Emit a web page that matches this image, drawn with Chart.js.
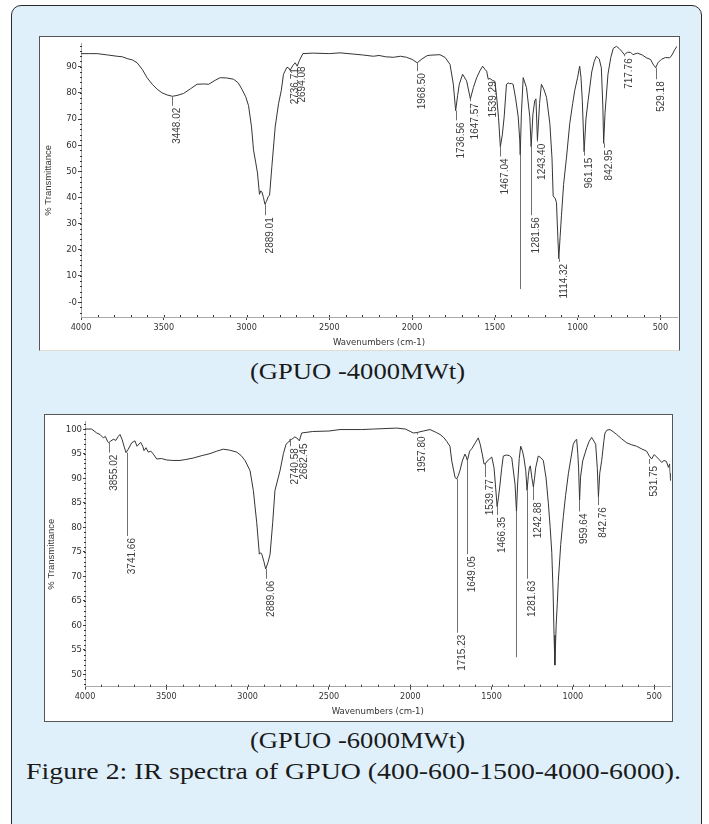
<!DOCTYPE html>
<html><head><meta charset="utf-8">
<script src="https://cdn.jsdelivr.net/npm/chart.js@4.4.1/dist/chart.umd.min.js"></script>
<style>
html,body{margin:0;padding:0;background:#fff;width:709px;height:824px;overflow:hidden;position:relative;}
#box{position:absolute;left:11px;top:5px;width:691px;height:850px;box-sizing:border-box;border:1.5px solid #2a2a2a;border-radius:10px;background:#dff0fb;}
.panel{position:absolute;background:#fff;box-sizing:border-box;}
#p1{left:39px;top:36px;width:641px;height:315px;border:1px solid #555;border-bottom-color:#e2ddd0;}
#p2{left:44px;top:414px;width:629px;height:308px;border:1px solid #555;}
canvas{position:absolute;}
#c1{left:40px;top:37px;}
#c2{left:45px;top:415px;}
.cap{position:absolute;white-space:nowrap;font-family:"Liberation Serif","DejaVu Serif",serif;color:#1a1a1a;font-size:23px;line-height:26px;transform-origin:0 50%;}
</style></head>
<body>
<div id="box"></div>
<div class="panel" id="p1"></div>
<div class="panel" id="p2"></div>
<canvas id="c1" width="639" height="313" style="width:639px;height:313px"></canvas>
<canvas id="c2" width="627" height="306" style="width:627px;height:306px"></canvas>
<div class="cap" id="cap1">(GPUO -4000MWt)</div>
<div class="cap" id="cap2">(GPUO -6000MWt)</div>
<div class="cap" id="cap3">Figure 2: IR spectra of GPUO (400-600-1500-4000-6000).</div>
<script>
// ---------- data ----------
const xTicks = [4000, 3500, 3000, 2500, 2000, 1500, 1000, 500];

// GPUO-4000MWt spectrum
const wn1 = [4000,3950,3902,3840,3782,3750,3721,3690,3661,3630,3601,3570,3540,3510,3480,3448,3420,3380,3340,3299,3260,3229,3190,3159,3120,3078,3050,3028,3005,2988,2970,2958,2945,2934,2922,2915,2907,2898,2889,2880,2868,2861,2847,2827,2807,2790,2777,2756,2745,2737,2720,2706,2694,2680,2660,2600,2500,2435,2350,2300,2234,2200,2160,2113,2070,2033,2000,1969,1940,1910,1892,1832,1800,1771,1751,1737,1725,1715,1695,1671,1648,1630,1610,1590,1574,1560,1550,1540,1530,1515,1500,1490,1478,1467,1455,1444,1430,1420,1410,1400,1390,1375,1359,1350,1347,1340,1329,1309,1289,1281,1270,1259,1252,1243,1230,1219,1205,1188,1168,1155,1148,1135,1128,1120,1114,1106,1098,1085,1068,1048,1030,1018,1000,988,980,972,961,950,937,915,900,887,870,857,848,843,835,817,800,785,766,750,735,718,700,680,666,640,610,585,560,545,529,515,495,470,444,430,414,400];
const t1 = [95.0,95.0,95.0,94.5,94.0,93.8,93.1,92.6,91.5,89.0,85.8,83.3,81.4,80.0,79.2,78.7,79.0,79.8,81.5,83.3,83.4,83.3,84.8,85.8,85.7,85.2,83.8,81.4,78.5,75.1,67.0,58.2,53.5,49.4,41.2,42.5,42.1,40.0,37.4,38.5,40.5,40.8,51.9,67.0,75.8,81.0,87.1,89.8,89.5,88.6,90.5,91.5,90.2,92.5,95.0,95.2,95.0,95.3,94.8,94.5,94.0,94.3,93.8,93.6,94.0,93.6,92.8,91.5,93.0,94.2,94.4,94.6,93.5,90.9,83.3,73.2,79.0,83.3,87.1,84.6,77.7,82.0,85.8,88.5,90.2,89.0,88.3,85.2,85.5,84.8,84.4,78.9,70.5,59.4,64.0,70.8,83.3,83.8,83.5,83.6,83.3,78.0,70.8,62.0,56.3,72.0,85.8,82.0,70.8,59.4,72.0,77.0,77.7,61.9,76.0,83.3,81.5,78.3,68.2,55.0,40.6,39.5,38.0,25.0,16.6,25.0,33.0,45.0,55.0,68.2,76.0,80.8,86.0,90.2,86.0,77.0,57.5,70.0,77.0,88.0,92.0,94.0,93.0,89.6,75.0,60.7,72.0,87.1,93.5,97.0,97.8,97.0,96.0,94.6,95.5,95.5,94.6,95.2,94.5,93.4,92.8,91.0,89.6,91.5,92.8,93.5,93.4,94.5,96.5,97.8];
const yTicks1 = [0, 10, 20, 30, 40, 50, 60, 70, 80, 90];
const yTickLabels1 = ['-0', '10', '20', '30', '40', '50', '60', '70', '80', '90'];
// peak annotations: position, trace value at peak, value where the label starts, label
const peakWn1 = [3448.02, 2889.01, 2736.71, 2694.08, 1968.50, 1736.56, 1647.57, 1539.29, 1467.04, 1347, 1281.56, 1243.40, 1114.32, 961.15, 842.95, 717.76, 529.18];
const peakT1 = [78.7, 37.4, 88.6, 90.2, 91.5, 73.2, 77.7, 85.2, 59.4, 56.3, 59.4, 61.9, 16.6, 57.5, 60.7, 94.6, 89.6];
const labelT1 = [75.1, 33.2, 90.2, 90.9, 88.3, 69.5, 76.8, 85.2, 55.7, 5.0, 33.2, 61.3, 15.4, 56.0, 59.0, 94.0, 85.2];
const peakName1 = ['3448.02', '2889.01', '2736.71', '2694.08', '1968.50', '1736.56', '1647.57', '1539.29', '1467.04', '', '1281.56', '1243.40', '1114.32', '961.15', '842.95', '717.76', '529.18'];

// GPUO-6000MWt spectrum
const wn2 = [4000,3959,3928,3908,3887,3875,3860,3855,3840,3826,3810,3795,3785,3772,3760,3748,3734,3713,3693,3680,3658,3645,3637,3625,3611,3595,3580,3559,3530,3498,3460,3416,3380,3334,3280,3231,3190,3150,3110,3067,3040,3016,2985,2965,2944,2928,2920,2913,2900,2889,2875,2862,2846,2832,2801,2780,2764,2745,2740,2729,2710,2698,2682,2668,2600,2500,2432,2300,2227,2083,2030,1981,1958,1920,1879,1840,1817,1795,1776,1756,1745,1725,1715,1705,1695,1680,1664,1655,1649,1635,1622,1600,1582,1570,1555,1547,1539,1527,1516,1499,1485,1475,1466,1458,1448,1438,1428,1410,1390,1376,1356,1347,1340,1330,1321,1310,1301,1290,1282,1274,1268,1262,1252,1243,1236,1229,1213,1198,1182,1165,1151,1140,1130,1122,1116,1111,1103,1096,1090,1075,1059,1045,1028,1010,998,985,977,970,965,959,953,940,915,900,885,870,860,850,843,835,823,810,803,790,772,750,731,700,669,640,608,580,547,530,516,500,485,470,454,440,425,413,405,402,400];
const t2 = [100.0,100.0,99.2,98.9,98.2,98.5,97.4,97.2,97.6,97.9,97.7,98.5,98.9,97.9,96.5,95.2,95.9,97.2,97.6,96.5,97.3,96.5,95.6,96.2,95.3,95.5,94.9,93.9,94.0,93.7,93.6,93.6,93.8,94.1,94.6,95.0,95.5,95.9,95.7,95.3,94.6,93.6,91.5,87.5,80.9,74.5,74.8,74.5,73.0,71.5,72.8,74.5,80.9,87.5,91.5,95.0,96.9,97.5,97.9,97.9,98.4,98.2,97.6,99.2,99.5,99.6,99.9,99.9,100.0,100.2,100.0,99.2,99.3,99.6,99.9,99.3,98.9,98.3,97.5,96.5,93.5,90.2,89.8,90.5,91.5,93.5,94.9,94.3,93.6,95.5,96.0,97.2,98.2,96.9,94.5,92.9,92.9,93.5,93.8,94.3,92.1,88.0,84.2,86.0,88.8,92.0,94.5,94.7,94.6,94.1,88.8,83.2,88.8,94.0,96.5,95.5,94.1,91.5,87.5,90.5,92.1,92.5,90.0,88.2,90.0,92.1,94.5,94.2,93.6,90.0,84.9,80.0,74.9,67.0,58.0,51.9,60.0,64.5,68.9,76.5,82.2,86.5,90.9,94.5,96.9,97.7,97.9,95.0,92.1,85.5,90.2,93.5,96.2,97.5,98.3,97.5,96.9,92.0,86.2,91.0,93.6,97.5,99.2,99.8,99.9,99.4,98.9,98.0,97.2,96.8,96.5,96.0,95.5,94.5,93.9,94.8,94.3,93.8,93.2,93.6,93.4,92.2,92.9,91.0,89.5];
const yTicks2 = [50, 55, 60, 65, 70, 75, 80, 85, 90, 95, 100];
const yTickLabels2 = ['50', '55', '60', '65', '70', '75', '80', '85', '90', '95', '100'];
const peakWn2 = [3855.02, 3741.66, 2889.06, 2740.58, 2682.45, 1957.80, 1715.23, 1649.05, 1539.77, 1466.35, 1347, 1281.63, 1242.88, 959.64, 842.76, 531.75];
const peakT2 = [97.2, 95.2, 71.5, 97.9, 97.6, 99.3, 89.8, 93.6, 92.9, 84.2, 83.2, 87.5, 88.2, 85.5, 86.2, 93.9];
const labelT2 = [95.2, 78.2, 69.5, 96.5, 97.5, 98.9, 58.5, 74.5, 90.2, 82.5, 53.5, 69.5, 85.5, 83.2, 84.5, 92.9];
const peakName2 = ['3855.02', '3741.66', '2889.06', '2740.58', '2682.45', '1957.80', '1715.23', '1649.05', '1539.77', '1466.35', '', '1281.63', '1242.88', '959.64', '842.76', '531.75'];

// ---------- drawing ----------
const NARROW = '"Liberation Sans Narrow", "DejaVu Sans Condensed", "Liberation Sans", Arial, sans-serif';
const SANS = '"Liberation Sans", Arial, sans-serif';

function annotPlugin(o) {
  return {
    id: 'annot',
    afterDraw(chart) {
      const ctx = chart.ctx, xs = chart.scales.x, ys = chart.scales.y, ca = chart.chartArea;
      ctx.save();
      // minor ticks
      ctx.strokeStyle = '#333'; ctx.lineWidth = 1;
      ctx.beginPath();
      for (let v = Math.ceil(ys.min / o.yMinor) * o.yMinor; v <= ys.max; v += o.yMinor) {
        const p = Math.round(ys.getPixelForValue(v)) + 0.5;
        ctx.moveTo(ca.left - 1, p); ctx.lineTo(ca.left + 1, p);
      }
      for (let v = 500; v <= 3900; v += 100) {
        const p = Math.round(xs.getPixelForValue(v)) + 0.5;
        ctx.moveTo(p, ca.bottom - 2); ctx.lineTo(p, ca.bottom);
      }
      ctx.stroke();
      // peak leaders + labels
      ctx.strokeStyle = '#707070';
      ctx.fillStyle = '#3c3c3c';
      ctx.font = '10px ' + SANS;
      o.peakWn.forEach((w, i) => {
        const x = Math.round(xs.getPixelForValue(w)) + 0.5;
        const y0 = ys.getPixelForValue(o.peakT[i]);
        const y1 = ys.getPixelForValue(o.labelT[i]);
        if (y1 > y0 + 0.5) {
          ctx.beginPath(); ctx.moveTo(x, y0); ctx.lineTo(x, y1); ctx.stroke();
        }
        if (o.peakName[i]) {
          ctx.save();
          ctx.translate(x, y1 + 2);
          ctx.rotate(-Math.PI / 2);
          ctx.textAlign = 'right';
          ctx.textBaseline = 'top';
          ctx.fillText(o.peakName[i], 0, 0);
          ctx.restore();
        }
      });
      ctx.restore();
    }
  };
}

function spectrum(id, wn, tr, o) {
  return new Chart(document.getElementById(id), {
    type: 'scatter',
    data: { datasets: [{
      data: wn.map((w, i) => ({ x: w, y: tr[i] })),
      showLine: true, borderColor: '#353535', borderWidth: 1,
      pointRadius: 0, pointHoverRadius: 0, tension: 0, fill: false
    }]},
    options: {
      responsive: false, animation: false, events: [], devicePixelRatio: 1,
      layout: { padding: { left: 0, top: o.padTop, right: o.padRight, bottom: 0 } },
      plugins: { legend: { display: false }, tooltip: { enabled: false } },
      scales: {
        x: {
          type: 'linear', reverse: true, min: 400, max: 4000,
          afterFit: s => { s.height = o.xH; },
          afterBuildTicks: s => { s.ticks = xTicks.map(v => ({ value: v })); },
          ticks: { font: { family: NARROW, size: 9 }, color: '#333', padding: 2, maxRotation: 0, autoSkip: false,
                   callback: (v, i) => String(xTicks[i]) },
          grid: { drawOnChartArea: false, drawTicks: true, tickLength: 3, color: '#444' },
          border: { display: true, color: '#aaa', width: 1 },
          title: { display: true, text: 'Wavenumbers (cm-1)', font: { family: NARROW, size: 9.5 }, color: '#333',
                   padding: { top: 0, bottom: o.xTitlePad } }
        },
        y: {
          type: 'linear', min: o.yMin, max: o.yMax,
          afterFit: s => { s.width = o.yW; },
          afterBuildTicks: s => { s.ticks = o.yTicks.map(v => ({ value: v })); },
          ticks: { font: { family: NARROW, size: 9.5 }, color: '#333', padding: 1, autoSkip: false,
                   callback: (v, i) => o.yLabels[i] },
          grid: { drawOnChartArea: false, drawTicks: true, tickLength: o.yTickLen, color: '#444' },
          border: { display: true, color: '#aaa', width: 1 },
          title: { display: true, text: '% Transmittance', font: { family: SANS, size: 9.5 }, color: '#333',
                   padding: { top: o.yTitlePad, bottom: 0 } }
        }
      }
    },
    plugins: [annotPlugin(o)]
  });
}

spectrum('c1', wn1, t1, {
  padTop: 2, padRight: 2, xH: 33, yW: 41, yMin: -5.7, yMax: 98.8, yTickLen: 3,
  yTicks: yTicks1, yLabels: yTickLabels1, yMinor: 2, xTitlePad: 1.6, yTitlePad: 2.3,
  peakWn: peakWn1, peakT: peakT1, labelT: labelT1, peakName: peakName1
});
spectrum('c2', wn2, t2, {
  padTop: 2, padRight: 1.5, xH: 34.3, yW: 40, yMin: 47.5, yMax: 101.5, yTickLen: 2,
  yTicks: yTicks2, yLabels: yTickLabels2, yMinor: 1, xTitlePad: 3.9, yTitlePad: 1,
  peakWn: peakWn2, peakT: peakT2, labelT: labelT2, peakName: peakName2
});

// captions: fit to measured widths
function placeCap(id, left, width, cy) {
  const el = document.getElementById(id);
  const w = el.getBoundingClientRect().width;
  el.style.left = left + 'px';
  el.style.top = (cy - 13) + 'px';
  el.style.transform = 'scaleX(' + (width / w) + ')';
}
placeCap('cap1', 250, 215, 372);
placeCap('cap2', 250, 215, 741);
placeCap('cap3', 26, 655, 772);
</script>
</body></html>
